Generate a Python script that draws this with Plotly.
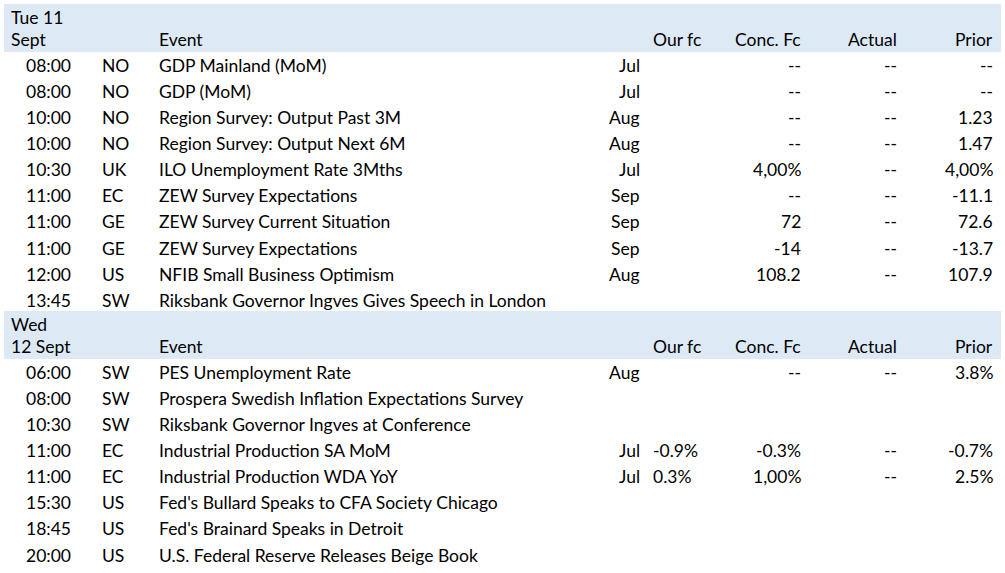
import plotly.graph_objects as go

# ---- data ----
day_labels = [["Tue 11", "Sept"], ["Wed", "12 Sept"]]
header_cols = ["Event", "Our fc", "Conc. Fc", "Actual", "Prior"]

day1_times = ["08:00", "08:00", "10:00", "10:00", "10:30", "11:00", "11:00", "11:00", "12:00", "13:45"]
day1_ctry = ["NO", "NO", "NO", "NO", "UK", "EC", "GE", "GE", "US", "SW"]
day1_event = ["GDP Mainland (MoM)", "GDP (MoM)", "Region Survey: Output Past 3M",
              "Region Survey: Output Next 6M", "ILO Unemployment Rate 3Mths",
              "ZEW Survey Expectations", "ZEW Survey Current Situation",
              "ZEW Survey Expectations", "NFIB Small Business Optimism",
              "Riksbank Governor Ingves Gives Speech in London"]
day1_period = ["Jul", "Jul", "Aug", "Aug", "Jul", "Sep", "Sep", "Sep", "Aug", ""]
day1_ourfc = ["", "", "", "", "", "", "", "", "", ""]
day1_conc = ["--", "--", "--", "--", "4,00%", "--", "72", "-14", "108.2", ""]
day1_actual = ["--", "--", "--", "--", "--", "--", "--", "--", "--", ""]
day1_prior = ["--", "--", "1.23", "1.47", "4,00%", "-11.1", "72.6", "-13.7", "107.9", ""]

day2_times = ["06:00", "08:00", "10:30", "11:00", "11:00", "15:30", "18:45", "20:00"]
day2_ctry = ["SW", "SW", "SW", "EC", "EC", "US", "US", "US"]
day2_event = ["PES Unemployment Rate", "Prospera Swedish Inflation Expectations Survey",
              "Riksbank Governor Ingves at Conference", "Industrial Production SA MoM",
              "Industrial Production WDA YoY", "Fed's Bullard Speaks to CFA Society Chicago",
              "Fed's Brainard Speaks in Detroit", "U.S. Federal Reserve Releases Beige Book"]
day2_period = ["Aug", "", "", "Jul", "Jul", "", "", ""]
day2_ourfc = ["", "", "", "-0.9%", "0.3%", "", "", ""]
day2_conc = ["--", "", "", "-0.3%", "1,00%", "", "", ""]
day2_actual = ["--", "", "", "--", "--", "", "", ""]
day2_prior = ["3.8%", "", "", "-0.7%", "2.5%", "", "", ""]

# ---- layout constants ----
W, H = 1005, 573
FONT = dict(family="Lato", size=17.5, color="#000000")
BAND = "#DDEAF6"
ROW_H = 26.15

X_TIME_R = 71
X_CTRY_L = 102
X_EVENT_L = 159
X_PERIOD_R = 640
X_OURFC_L = 653
X_OURFC_HDR_R = 701
X_CONC_R = 801
X_ACT_R = 897
X_PRIOR_R = 993

fig = go.Figure()
annotations = []
shapes = []


def txt(x, y, s, anchor):
    if s == "":
        return
    annotations.append(dict(x=x, y=y, xref="x", yref="y", text=s, showarrow=False,
                            xanchor=anchor, yanchor="middle", font=FONT,
                            borderpad=0, borderwidth=0))


def block(top, labels, times, ctry, event, period, ourfc, conc, actual, prior):
    shapes.append(dict(type="rect", xref="x", yref="y", x0=4, x1=1001, y0=top, y1=top + 48,
                       fillcolor=BAND, line=dict(width=0), layer="below"))
    y1 = top + 13
    y2 = top + 35.5
    txt(11, y1, labels[0], "left")
    txt(11, y2, labels[1], "left")
    txt(X_EVENT_L, y2, header_cols[0], "left")
    txt(X_OURFC_HDR_R, y2, header_cols[1], "right")
    txt(X_CONC_R, y2, header_cols[2], "right")
    txt(X_ACT_R, y2, header_cols[3], "right")
    txt(X_PRIOR_R, y2, header_cols[4], "right")
    y0 = top + 61
    for i in range(len(times)):
        y = y0 + i * ROW_H
        txt(X_TIME_R, y, times[i], "right")
        txt(X_CTRY_L, y, ctry[i], "left")
        txt(X_EVENT_L, y, event[i], "left")
        txt(X_PERIOD_R, y, period[i], "right")
        txt(X_OURFC_L, y, ourfc[i], "left")
        txt(X_CONC_R, y, conc[i], "right")
        txt(X_ACT_R, y, actual[i], "right")
        txt(X_PRIOR_R, y, prior[i], "right")


block(4, day_labels[0], day1_times, day1_ctry, day1_event, day1_period,
      day1_ourfc, day1_conc, day1_actual, day1_prior)
block(311, day_labels[1], day2_times, day2_ctry, day2_event, day2_period,
      day2_ourfc, day2_conc, day2_actual, day2_prior)

fig.update_layout(
    width=W, height=H,
    margin=dict(l=0, r=0, t=0, b=0),
    paper_bgcolor="white", plot_bgcolor="white",
    xaxis=dict(range=[0, W], visible=False, fixedrange=True),
    yaxis=dict(range=[H, 0], visible=False, fixedrange=True),
    annotations=annotations, shapes=shapes,
    showlegend=False,
)
fig.write_html("out.html", config={"displayModeBar": False},
               post_script="document.body.style.margin='0';document.body.style.padding='0';")
